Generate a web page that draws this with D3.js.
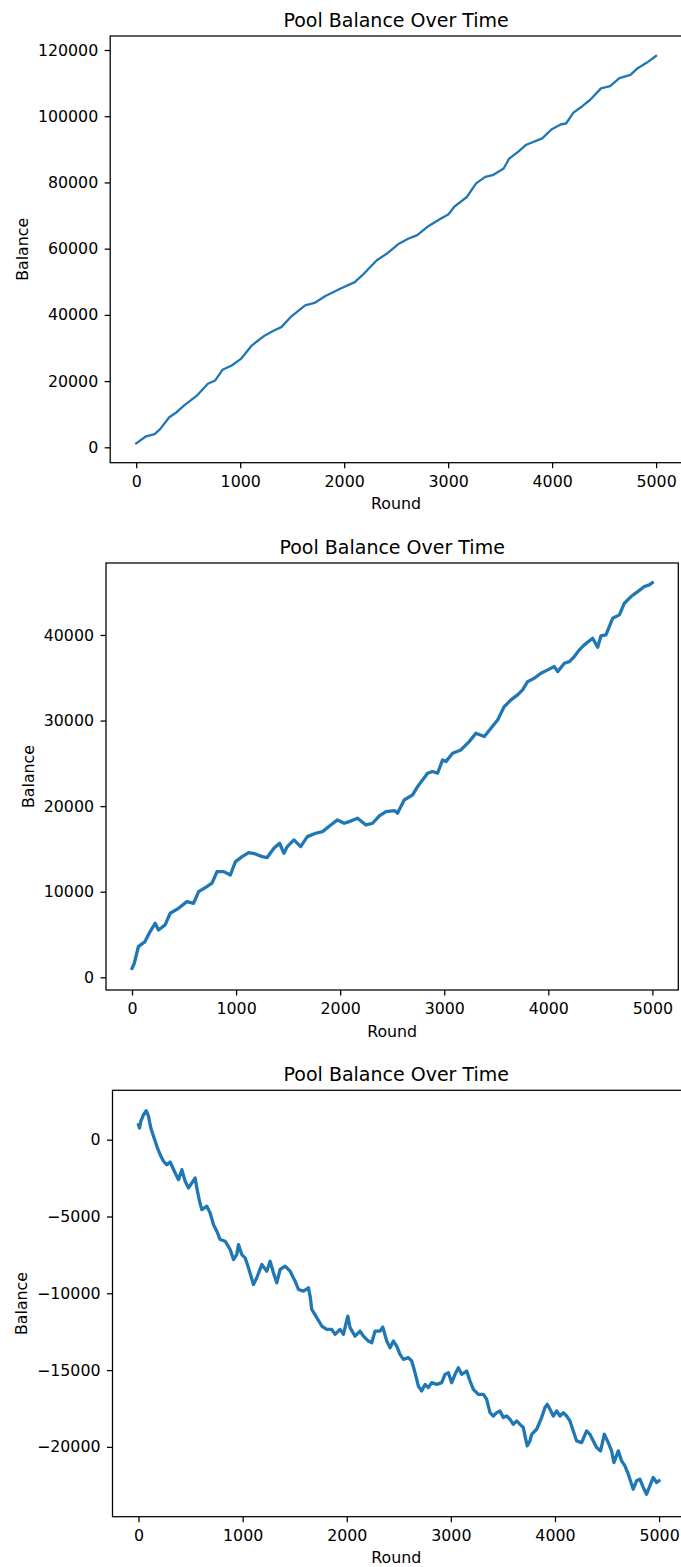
<!DOCTYPE html>
<html>
<head>
<meta charset="utf-8">
<script src="https://cdn.jsdelivr.net/npm/d3@7"></script>
<style>
  body { margin: 0; background: #fff; }
  svg { display: block; font-family: "DejaVu Sans", sans-serif; }
</style>
</head>
<body>
<div id="chart"></div>
<script>
// values
const roundTicks = [0, 1000, 2000, 3000, 4000, 5000];
const roundLimits = [-250, 5249];

const rounds1 = [0, 88, 177, 230, 318, 389, 459, 583, 689, 760, 830, 919, 1007, 1113, 1237, 1325, 1396, 1484, 1625, 1714,
  1820, 1961, 2102, 2173, 2314, 2420, 2527, 2615, 2703, 2809, 2915, 3004, 3057, 3180, 3269, 3357, 3428, 3534, 3587, 3675,
  3746, 3905, 3993, 4081, 4134, 4205, 4293, 4364, 4470, 4558, 4647, 4753, 4823, 4912, 4999];
const balance1 = [1200, 3200, 4000, 5500, 9100, 10600, 12600, 15600, 19200, 20200, 23400, 24700, 26700, 30800, 33800, 35300, 36300, 39300, 42900, 43600,
  45700, 47900, 49900, 51900, 56500, 58700, 61500, 63000, 64100, 66800, 68800, 70400, 72600, 75600, 79700, 81700, 82200, 84200, 87200, 89300,
  91300, 93300, 96000, 97500, 97800, 101100, 103100, 104900, 108400, 109100, 111500, 112500, 114500, 116200, 118200];
const yTicks1 = [0, 20000, 40000, 60000, 80000, 100000, 120000];
const yLimits1 = [-4650, 124230];

const rounds2 = [0, 22, 61, 125, 174, 222, 254, 318, 367, 447, 527, 592, 640, 720, 768, 817, 881, 945, 994, 1058,
  1122, 1186, 1251, 1299, 1363, 1418, 1460, 1492, 1556, 1620, 1685, 1765, 1830, 1910, 1974, 2039, 2087, 2167, 2248, 2312,
  2376, 2441, 2521, 2551, 2615, 2696, 2744, 2840, 2888, 2936, 2984, 3016, 3080, 3160, 3240, 3304, 3385, 3449, 3513, 3577,
  3641, 3705, 3753, 3801, 3865, 3929, 3994, 4058, 4090, 4154, 4202, 4250, 4298, 4346, 4426, 4474, 4506, 4554, 4619, 4683,
  4731, 4795, 4859, 4923, 4971, 4999];
const balance2 = [1050, 1640, 3580, 4170, 5340, 6310, 5530, 6120, 7480, 8060, 8840, 8650, 10010, 10600, 10990, 12350, 12350, 11960, 13520, 14100,
  14570, 14410, 14100, 13990, 15080, 15660, 14490, 15270, 16050, 15270, 16440, 16830, 17020, 17800, 18390, 18000, 18190, 18580, 17800, 18000,
  18850, 19360, 19480, 19170, 20720, 21310, 22280, 23840, 24040, 23840, 25400, 25200, 26180, 26570, 27540, 28520, 28130, 29100, 30070, 31630,
  32410, 33000, 33580, 34550, 34940, 35530, 35920, 36310, 35720, 36700, 36890, 37480, 38260, 38840, 39620, 38570, 39900, 40010, 41960, 42350,
  43710, 44490, 45070, 45660, 45850, 46100];
const yTicks2 = [0, 10000, 20000, 30000, 40000];
const yLimits2 = [-1484, 48410];

const rounds3 = [0, 10, 22, 48, 74, 96, 118, 144, 176, 208, 240, 272, 304, 352, 384, 416, 448, 480, 512, 544,
  560, 586, 608, 656, 688, 720, 752, 784, 832, 880, 912, 944, 960, 992, 1024, 1056, 1104, 1136, 1184, 1232,
  1264, 1296, 1328, 1360, 1408, 1456, 1504, 1536, 1584, 1632, 1648, 1664, 1712, 1760, 1808, 1856, 1888, 1936, 1968, 2010,
  2032, 2080, 2128, 2160, 2208, 2240, 2272, 2320, 2346, 2384,
  2416, 2448, 2480, 2512, 2544, 2592, 2624, 2656, 2688, 2720, 2752, 2784, 2816, 2864, 2912, 2944, 2976, 3008, 3040, 3072,
  3104, 3152, 3184, 3216, 3264, 3312, 3344, 3376, 3408, 3440, 3472, 3504, 3536, 3568, 3600, 3632, 3664, 3696, 3712, 3734,
  3760, 3776, 3824, 3872, 3904, 3926, 3952, 3984, 4016, 4048, 4080, 4112, 4144, 4176, 4208, 4256, 4304, 4336, 4368, 4400,
  4438, 4474, 4512, 4544, 4566, 4608, 4640, 4672, 4704, 4736, 4752, 4784, 4816, 4848, 4880, 4912, 4944, 4976, 4999];
const balance3 = [975, 760, 1190, 1625, 1885, 1520, 760, 220, -430, -980, -1410, -1630, -1450, -2170, -2600, -1950, -2710, -3140, -2820, -2490,
  -3140, -4010, -4550, -4330, -4770, -5530, -5960, -6500, -6610, -7150, -7800, -7480, -6830, -7480, -7690, -8340, -9430, -8990, -8130, -8560,
  -7910, -8670, -9320, -8450, -8230, -8560, -9210, -9750, -9860, -9640, -10180, -11050, -11590, -12130, -12350, -12350, -12680, -12350, -12680, -11490,
  -12240, -12790, -12460, -12790, -13110, -13220, -12460, -12460, -12200, -13110,
  -13540, -13110, -13440, -13980, -14300, -14190, -14410, -15170, -16040, -16360, -15930, -16140, -15820, -15930, -15820, -15280, -15170, -15820, -15280, -14840,
  -15280, -15060, -15710, -16250, -16580, -16580, -16900, -17770, -17990, -17770, -17660, -18090, -17990, -18200, -18530, -18310, -18530, -18740, -19280, -19930,
  -19610, -19180, -18850, -18090, -17440, -17230, -17550, -17990, -17660, -17990, -17770, -17990, -18310, -18960, -19610, -19720, -18960, -19180, -19610, -20040,
  -20260, -19180, -19720, -20260, -21020, -20260, -20910, -21240, -21780, -22430, -22750, -22210, -22100, -22640, -23080, -22530, -21990, -22320, -22210];
const yTicks3 = [0, -5000, -10000, -15000, -20000];
const yLimits3 = [-24545, 3216];

const title = "Pool Balance Over Time";
const xLabel = "Round";
const yLabel = "Balance";

// axes boxes in px
const boxes = [
  { left: 110.2, top: 36, right: 682, bottom: 462.7, lw: 2.3 },
  { left: 106, top: 563, right: 678.3, bottom: 990, lw: 3.3 },
  { left: 112.5, top: 1090.3, right: 685, bottom: 1516.7, lw: 3.3 }
];

const panels = [
  { rounds: rounds1, balance: balance1, yTicks: yTicks1, yLimits: yLimits1 },
  { rounds: rounds2, balance: balance2, yTicks: yTicks2, yLimits: yLimits2 },
  { rounds: rounds3, balance: balance3, yTicks: yTicks3, yLimits: yLimits3 }
];

const tickFont = 15.8;
const svg = d3.select("#chart")
    .append("svg")
    .attr("width", 681)
    .attr("height", 1567);

const fmt = d3.format("d");

panels.forEach((p, i) => {
    const b = boxes[i];
    const x = d3.scaleLinear().domain(roundLimits).range([b.left, b.right]);
    const y = d3.scaleLinear().domain(p.yLimits).range([b.bottom, b.top]);
    const pts = p.rounds.map((r, k) => [r, p.balance[k]]);

    const g = svg.append("g");

    g.append("path")
        .datum(pts)
        .attr("fill", "none")
        .attr("stroke", "#1f77b4")
        .attr("stroke-width", b.lw)
        .attr("stroke-linejoin", "round")
        .attr("stroke-linecap", "square")
        .attr("d", d3.line().x(d => x(d[0])).y(d => y(d[1])));

    // spines
    g.append("rect")
        .attr("x", b.left).attr("y", b.top)
        .attr("width", b.right - b.left).attr("height", b.bottom - b.top)
        .attr("fill", "none").attr("stroke", "#000").attr("stroke-width", 1.26);

    const gx = g.append("g")
        .attr("transform", `translate(0,${b.bottom})`)
        .call(d3.axisBottom(x).tickValues(roundTicks).tickFormat(fmt)
            .tickSize(5.5).tickSizeOuter(0).tickPadding(7.5));
    const gy = g.append("g")
        .attr("transform", `translate(${b.left},0)`)
        .call(d3.axisLeft(y).tickValues(p.yTicks).tickFormat(fmt)
            .tickSize(5.5).tickSizeOuter(0).tickPadding(6.5));

    [gx, gy].forEach(a => {
        a.select(".domain").remove();
        a.selectAll(".tick line").attr("stroke", "#000").attr("stroke-width", 1.26);
        a.selectAll(".tick text")
            .attr("fill", "#000")
            .style("font-family", '"DejaVu Sans", sans-serif')
            .style("font-size", tickFont + "px");
    });

    g.append("text")
        .attr("x", (b.left + b.right) / 2 - (i === 2 ? 2.5 : 0))
        .attr("y", b.top - 9.5)
        .attr("text-anchor", "middle")
        .style("font-size", "19px")
        .text(title);

    g.append("text")
        .attr("x", (b.left + b.right) / 2 - (i === 2 ? 2.5 : 0))
        .attr("y", b.bottom + 46.6)
        .attr("text-anchor", "middle")
        .style("font-size", tickFont + "px")
        .text(xLabel);

    // y label sits left of the widest tick label
    const labLeft = b.left + gy.node().getBBox().x;
    const cy = (b.top + b.bottom) / 2;
    g.append("text")
        .attr("transform", `translate(${labLeft - 10},${cy}) rotate(-90)`)
        .attr("text-anchor", "middle")
        .style("font-size", tickFont + "px")
        .text(yLabel);
});
</script>
</body>
</html>
